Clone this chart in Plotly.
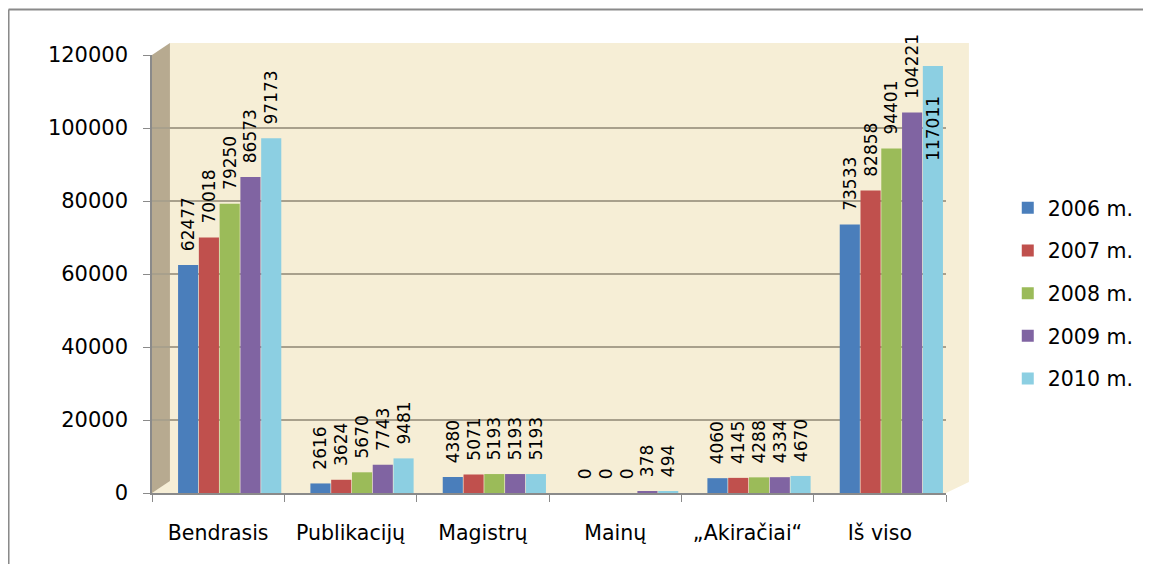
import plotly.graph_objects as go

categories = ["Bendrasis", "Publikacijų", "Magistrų", "Mainų", "„Akiračiai“", "Iš viso"]
series_names = ["2006 m.", "2007 m.", "2008 m.", "2009 m.", "2010 m."]
v2006 = [62477, 2616, 4380, 0, 4060, 73533]
v2007 = [70018, 3624, 5071, 0, 4145, 82858]
v2008 = [79250, 5670, 5193, 0, 4288, 94401]
v2009 = [86573, 7743, 5193, 378, 4334, 104221]
v2010 = [97173, 9481, 5193, 494, 4670, 117011]
y_ticks = [0, 20000, 40000, 60000, 80000, 100000, 120000]

values = [v2006, v2007, v2008, v2009, v2010]
colors = ["#4a7ebb", "#c0504d", "#9bbb59", "#8064a2", "#8ccfe2"]

# page offset of the figure (default body margin)
OFF = 8
PW, PH = 1151, 564
W, H = PW - OFF, PH - OFF
# plot area in page pixels
PL, PR, PT, PB = 152, 949, 55, 493

def px_x(p):
    return (p - PL) / (PR - PL)

def px_y(p):
    return (PB - p) / (PB - PT)

NB = "\u00a0"
FONT = "DejaVu Sans"
fig = go.Figure()
bw = 0.152
step = 0.157
start = -0.39 + 0.087
for i, (name, vals, col) in enumerate(zip(series_names, values, colors)):
    tpos, txt = [], []
    for v in vals:
        if v > 110000:
            tpos.append("inside")
            txt.append(str(v) + NB * 5)
        else:
            tpos.append("outside")
            txt.append(NB * 2 + str(v))
    fig.add_trace(go.Bar(
        x=categories, y=vals, name=name,
        marker=dict(color=col, line=dict(width=0)),
        width=bw, offset=start + i * step,
        text=txt, textposition=tpos,
        textangle=-90, insidetextanchor="end",
        textfont=dict(family=FONT, size=17, color="black"),
        insidetextfont=dict(family=FONT, size=17, color="black"),
        outsidetextfont=dict(family=FONT, size=17, color="black"),
        constraintext="none", cliponaxis=False,
        legendgroup=name,
    ))

def poly(pts):
    return "M " + " L ".join(f"{px_x(x):.5f},{px_y(y):.5f}" for x, y in pts) + " Z"

shapes = [
    # back wall extension (top strip and right side)
    dict(type="path", xref="paper", yref="paper", layer="below",
         path=poly([(170, 43), (972, 43), (972, 482), (949, 493), (949, 55), (170, 55)]),
         fillcolor="#f6eed6", line=dict(width=0)),
    # left side wall
    dict(type="path", xref="paper", yref="paper", layer="below",
         path=poly([(152, 493), (152, 55), (170, 43), (170, 481)]),
         fillcolor="#b7aa90", line=dict(width=0)),
    # outer border lines
    dict(type="line", xref="paper", yref="paper", x0=px_x(8), x1=px_x(PW + 5), y0=px_y(9.5), y1=px_y(9.5),
         line=dict(color="#8a8a8a", width=2)),
    dict(type="line", xref="paper", yref="paper", x0=px_x(8), x1=px_x(8), y0=px_y(9.5), y1=px_y(PH + 5),
         line=dict(color="#8a8a8a", width=2)),
]

fig.update_layout(
    width=W, height=H,
    margin=dict(l=PL - OFF, r=PW - PR, t=PT - OFF, b=PH - PB),
    paper_bgcolor="white",
    plot_bgcolor="#f6eed6",
    font=dict(family=FONT, size=20, color="black"),
    barmode="group",
    showlegend=True,
    legend=dict(x=px_x(1011), xanchor="left", y=px_y(188), yanchor="top",
                font=dict(family=FONT, size=20.5, color="black"),
                tracegroupgap=13, bgcolor="rgba(0,0,0,0)"),
    shapes=shapes,
)
fig.update_xaxes(showline=True, linecolor="#8a8a8a", linewidth=1.5,
                 ticks="outside", ticklen=7, tickcolor="#8a8a8a", tickson="boundaries",
                 showgrid=False, tickfont=dict(family=FONT, size=20.5), ticklabelstandoff=21)
fig.update_yaxes(range=[0, 120000], tickvals=y_ticks, ticktext=[str(t) for t in y_ticks],
                 showline=True, linecolor="#8a8a8a", linewidth=1.5,
                 ticks="outside", ticklen=7, tickcolor="#8a8a8a",
                 showgrid=True, gridcolor="#a8a08c", gridwidth=2, zeroline=False,
                 tickfont=dict(family=FONT, size=21), ticklabelstandoff=11)

fig.write_html("out.html")
